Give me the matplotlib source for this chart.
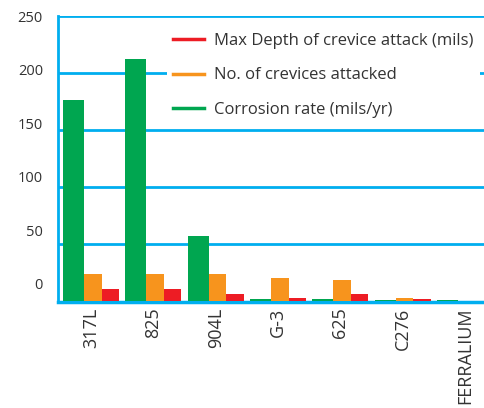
import numpy as np
import matplotlib.pyplot as plt
from matplotlib.lines import Line2D
from matplotlib.transforms import blended_transform_factory

alloys = ["317L", "825", "904L", "G-3", "625", "C276", "FERRALIUM"]
corrosion_rate = [176, 212, 57, 1.7, 1.7, 0.9, 0.9]
crevices_attacked = [23.6, 23.6, 23.6, 20, 18, 2.6, 0]
max_depth = [10.5, 10.5, 6, 2.6, 6, 1.7, 0]
y_ticks = [0, 50, 100, 150, 200, 250]

GREEN = "#00A650"
ORANGE = "#F7941D"
RED = "#ED1C24"
BLUE = "#00AEEF"
TEXT = "#333333"

plt.rcParams["font.family"] = ["Open Sans", "DejaVu Sans"]

fig = plt.figure(figsize=(4.84, 4.08), dpi=100)
ax = fig.add_axes([58 / 484, 106 / 408, 1 - 58 / 484, 286 / 408])

x = np.arange(len(alloys))
w_g, w_o, w_r = 0.337, 0.284, 0.281
ax.bar(x, corrosion_rate, width=w_g, align="edge", color=GREEN, zorder=3)
ax.bar(x + w_g, crevices_attacked, width=w_o, align="edge", color=ORANGE, zorder=3)
ax.bar(x + w_g + w_o, max_depth, width=w_r, align="edge", color=RED, zorder=3)

ax.set_xlim(-0.08, 6.757)
ax.set_ylim(-1.2, 250)

# grid lines
ax.set_yticks(y_ticks[1:])
ax.yaxis.grid(True, color=BLUE, lw=2, zorder=1)
ax.tick_params(axis="y", length=0, labelleft=False)
for s in ["top", "right"]:
    ax.spines[s].set_visible(False)
ax.spines["left"].set_color(BLUE)
ax.spines["left"].set_linewidth(2)
ax.spines["bottom"].set_color(BLUE)
ax.spines["bottom"].set_linewidth(2.5)
ax.spines["bottom"].set_zorder(2)

# y labels sit on their own slightly compressed scale in the original
tr = blended_transform_factory(ax.transAxes, ax.transData)
for v in y_ticks:
    ax.text(-15 / 426, 13 + 0.9395 * v, str(v), transform=tr, ha="right",
            va="center", fontsize=10.5, color=TEXT)

ax.set_xticks(x + (w_g + w_o + w_r) / 2)
ax.set_xticklabels(alloys, rotation=90, fontsize=13, color=TEXT)
ax.tick_params(axis="x", length=0, pad=4)

handles = [Line2D([], [], color=RED, lw=2.5),
           Line2D([], [], color=ORANGE, lw=2.5),
           Line2D([], [], color=GREEN, lw=2.5)]
labels = ["Max Depth of crevice attack (mils)",
          "No. of crevices attacked",
          "Corrosion rate (mils/yr)"]
leg = ax.legend(handles, labels, loc="upper left", bbox_to_anchor=(0.236, 0.99),
                frameon=True, fontsize=12, handlelength=1.9, handletextpad=0.6,
                labelspacing=1.1, borderpad=0.35, fancybox=False)
leg.get_frame().set_facecolor("white")
leg.get_frame().set_edgecolor("none")
leg.get_frame().set_alpha(1)
leg.set_zorder(5)
for t in leg.get_texts():
    t.set_color(TEXT)

fig.savefig("out.png", dpi=100)
